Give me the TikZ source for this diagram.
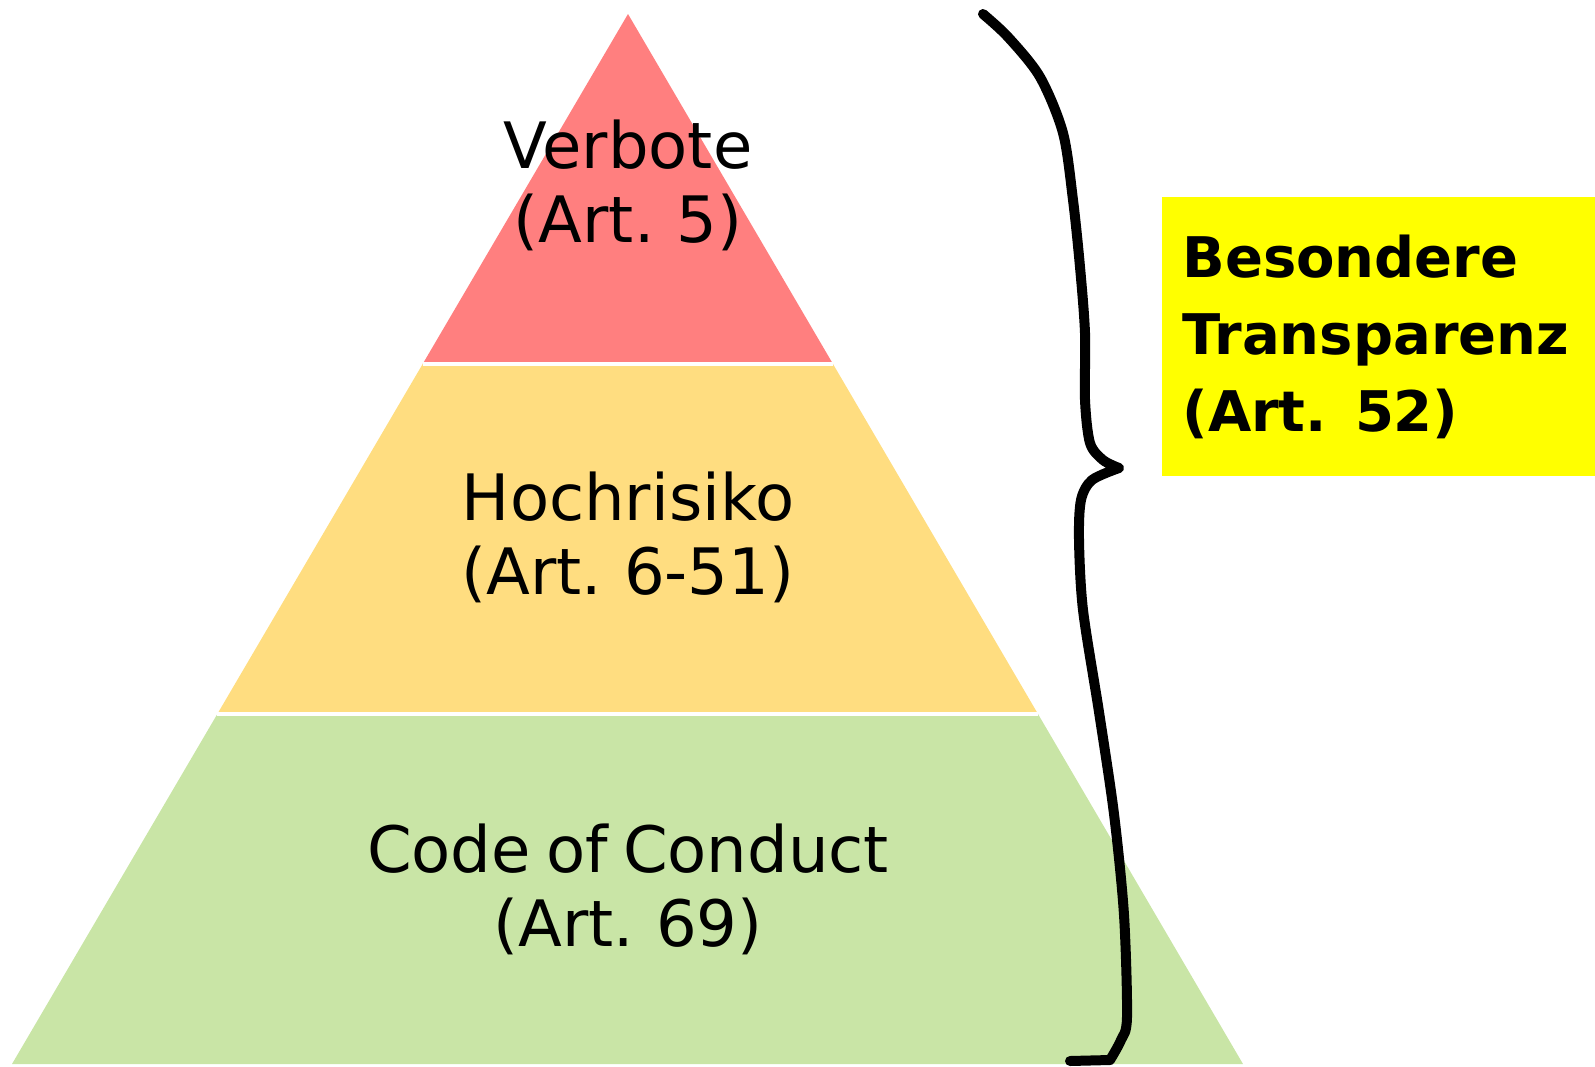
\documentclass[tikz,border=0pt]{standalone}
\usepackage{fontspec}
\setmainfont[WordSpace=0.75]{DejaVu Sans}
\usetikzlibrary{calc}
\definecolor{verbotrot}{HTML}{FF7F7F}
\definecolor{risikogelb}{HTML}{FFDD80}
\definecolor{kodexgruen}{HTML}{C9E5A6}
\definecolor{markgelb}{HTML}{FFFF00}
\tikzset{stufe/.style={align=center,font=\fontsize{32}{37}\selectfont},
 trenner/.style={draw=white,line width=1.75pt},
 klammer/.style={line width=5pt,line cap=round,line join=round},
 hinweis/.style={fill=markgelb,anchor=north west,align=left,inner xsep=10pt,
   text width=196.5pt,minimum height=139.5pt,
   font=\bfseries\fontsize{28}{38.5}\selectfont},
 }

\begin{document}
\begin{tikzpicture}[x=0.5pt,y=-0.5pt]
    \useasboundingbox (0,0) rectangle (1595,1066);
    \coordinate (spitze) at (628,14);
    \coordinate (links) at (12,1064);
    \coordinate (rechts) at (1243,1064);
    \coordinate (l1) at ($(spitze)!1/3!(links)$);
    \coordinate (r1) at ($(spitze)!1/3!(rechts)$);
    \coordinate (l2) at ($(spitze)!2/3!(links)$);
    \coordinate (r2) at ($(spitze)!2/3!(rechts)$);
    \fill[verbotrot] (spitze) -- (r1) -- (l1) -- cycle;
    \fill[risikogelb] (l1) -- (r1) -- (r2) -- (l2) -- cycle;
    \fill[kodexgruen] (l2) -- (r2) -- (rechts) -- (links) -- cycle;
    \draw[trenner] (l1) -- (r1);
    \draw[trenner] (l2) -- (r2);
    \node[stufe] (verbote) at (628,185) {Verbote\\(Art. 5)};
    \node[stufe] (hochrisiko) at (628,537) {Hochrisiko\\(Art. 6-51)};
    \node[stufe] (kodex) at (628,889) {Code of Conduct\\(Art. 69)};
    \draw[klammer] plot[smooth] coordinates {(983,14) (1008,37) (1040,77)
        (1063,133) (1073,200) (1080,267) (1085,333) (1085,400) (1090,443)
        (1103,460) (1119,468)}
      plot[smooth] coordinates {(1119,468) (1092,480) (1081,500) (1079,540)
        (1083,610) (1099,712) (1114,814) (1124,915) (1127,1017) (1121,1040)
        (1110,1060)} -- (1070,1061);
    \node[hinweis] (transparenz) at (1162,197) {Besondere\\Transparenz\\(Art. 52)};
\end{tikzpicture}
\end{document}
